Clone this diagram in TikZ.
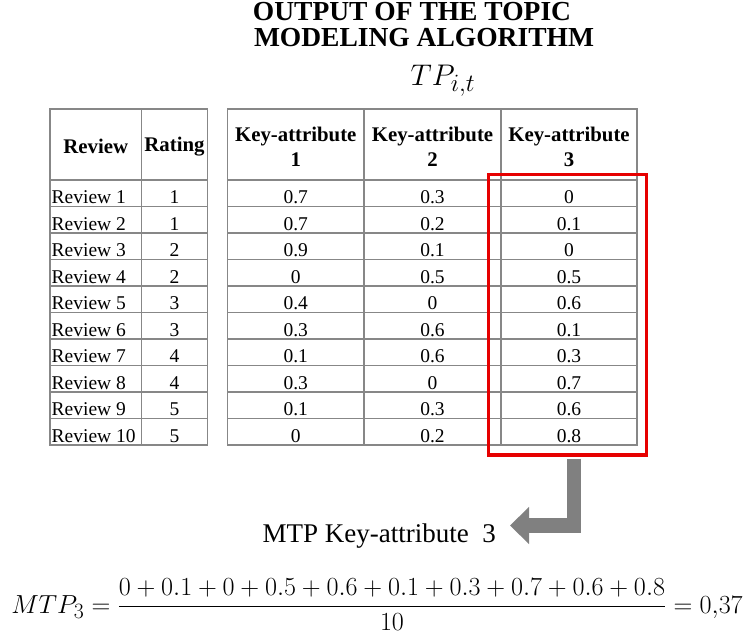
\documentclass[tikz,border=0pt]{standalone}
\usepackage{graphicx}
\usepackage{fontspec}
\setmainfont{Liberation Serif}[BoldFont={Liberation Serif Bold},ItalicFont={Liberation Serif Italic},BoldItalicFont={Liberation Serif Bold Italic}]
\usetikzlibrary{arrows.meta}
\definecolor{tablegray}{RGB}{135,135,135}
\definecolor{boxred}{RGB}{230,0,0}
\definecolor{arrowgray}{RGB}{128,128,128}
\begin{document}
\begin{tikzpicture}[x=1pt,y=-1pt,
  gridline/.style={draw=tablegray, line width=1.4pt},
  headtxt/.style={font=\fontsize{20.8}{25}\selectfont\bfseries, align=center, inner sep=0pt},
  celltxt/.style={font=\fontsize{19.5}{22}\selectfont, inner sep=0pt, anchor=base},
  revtxt/.style={celltxt, anchor=base west},
  titletxt/.style={font=\fontsize{27.5}{30}\selectfont\bfseries, inner sep=0pt, anchor=base},
  redframe/.style={draw=boxred, line width=3.3pt, inner sep=0pt, minimum width=158.4pt, minimum height=280.7pt},
  bigarrow/.style={color=arrowgray, line width=14.5pt, line cap=butt, line join=miter, -{Triangle[length=19pt,width=36pt]}},
]
\useasboundingbox (0,0) rectangle (746,637);

% title
\node[titletxt] (title1) at (412,20.5) {OUTPUT OF THE TOPIC};
\node[titletxt] (title2) at (424,46.5) {MODELING ALGORITHM};
\node[inner sep=0pt, anchor=base, font=\fontsize{24.88}{30}\selectfont] (tp) at (443,85) {\scalebox{1.2}{$TP_{i,t}$}};

% left table grid
\draw[gridline] (50,109) rectangle (207.5,445);
\draw[gridline] (141.5,109) -- (141.5,445);
\foreach \k in {0,...,9} \draw[gridline] (50,{180+26.5*\k}) -- (207.5,{180+26.5*\k});
% right table grid
\draw[gridline] (227.5,109) rectangle (637,445);
\draw[gridline] (364,109) -- (364,445);
\draw[gridline] (501,109) -- (501,445);
\foreach \k in {0,...,9} \draw[gridline] (227.5,{180+26.5*\k}) -- (637,{180+26.5*\k});

% headers
\node[headtxt] (hrev) at (95.75,146.5) {Review};
\node[headtxt] (hrat) at (174.5,146.5) {Rating};
\node[headtxt] (hka) at (295.75,146.5) {Key-attribute\\1};
\node[headtxt] (hkb) at (432.5,146.5) {Key-attribute\\2};
\node[headtxt] (hkc) at (569,146.5) {Key-attribute\\3};

% data rows
\foreach \rv/\rat/\ka/\kb/\kc [count=\i] in {
  1/1/0.7/0.3/0, 2/1/0.7/0.2/0.1, 3/2/0.9/0.1/0, 4/2/0/0.5/0.5, 5/3/0.4/0/0.6,
  6/3/0.3/0.6/0.1, 7/4/0.1/0.6/0.3, 8/4/0.3/0/0.7, 9/5/0.1/0.3/0.6, 10/5/0/0.2/0.8} {
  \node[revtxt] (rev\i) at (51.5,{180+26.5*(\i-1)+23.5}) {Review \rv};
  \node[celltxt] (rat\i) at (174.5,{180+26.5*(\i-1)+23.5}) {\rat};
  \node[celltxt] (ka\i) at (295.75,{180+26.5*(\i-1)+23.5}) {\ka};
  \node[celltxt] (kb\i) at (432.5,{180+26.5*(\i-1)+23.5}) {\kb};
  \node[celltxt] (kc\i) at (569,{180+26.5*(\i-1)+23.5}) {\kc};
}

% red frame
\node[redframe] (redbox) at (567.5,314.65) {};

% label and arrow
\node[inner sep=0pt, anchor=base east, font=\fontsize{27}{32}\selectfont] (mtp) at (496,542) {MTP Key-attribute\enspace 3};
\coordinate (arrstart) at (574,458.5);
\coordinate (arrtip) at (510,525.5);
\draw[bigarrow] (arrstart) |- (arrtip);

% formula
\node[inner sep=0pt, anchor=base, font=\fontsize{24.88}{30}\selectfont] (formula) at (377,613)
  {\scalebox{1.05}{$\displaystyle MTP_3=\frac{0+0.1+0+0.5+0.6+0.1+0.3+0.7+0.6+0.8}{10}=0{,}37$}};
\end{tikzpicture}
\end{document}
